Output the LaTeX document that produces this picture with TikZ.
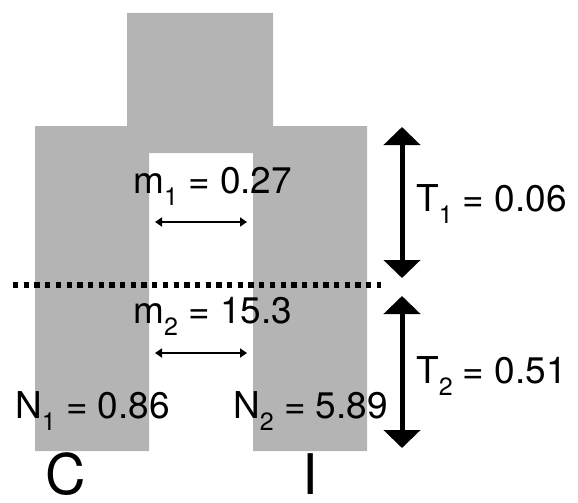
\documentclass[tikz,border=0pt]{standalone}
\usepackage{fontspec}
\setmainfont{TeX Gyre Heros}
\usetikzlibrary{arrows.meta}
\definecolor{popgray}{RGB}{180,180,180}
\newcommand{\sub}[1]{\raisebox{-0.34em}{\fontsize{25}{25}\selectfont #1}}
\tikzset{
  lbl/.style={anchor=base west, inner sep=0pt, font=\fontsize{37}{44}\selectfont},
  big/.style={anchor=base, inner sep=0pt, font=\fontsize{56}{60}\selectfont},
  migr/.style={line width=1.8pt, {Triangle[length=7pt,width=9pt]}-{Triangle[length=7pt,width=9pt]}},
  epoch/.style={line width=5pt, {Triangle[length=18pt,width=36pt]}-{Triangle[length=18pt,width=36pt]}},
  divide/.style={line width=5.3pt, dash pattern=on 5.3pt off 5.4pt}
}
\begin{document}
\begin{tikzpicture}[x=1pt,y=-1pt]
\useasboundingbox (0,0) rectangle (578,503);
% population shape
\fill[popgray] (127,13) -- (273,13) -- (273,126) -- (367,126) -- (367,451)
  -- (253,451) -- (253,153) -- (149,153) -- (149,451) -- (35,451)
  -- (35,126) -- (127,126) -- cycle;
% divider
\coordinate (dl) at (13,285);
\coordinate (dr) at (381,285);
\draw[divide] (dl) -- (dr);
% epoch arrows
\coordinate (t1a) at (402,127);
\coordinate (t1b) at (402,278);
\coordinate (t2a) at (402,296);
\coordinate (t2b) at (402,448);
\draw[epoch] (t1a) -- (t1b);
\draw[epoch] (t2a) -- (t2b);
% migration arrows
\coordinate (m1a) at (155,222);
\coordinate (m1b) at (247,222);
\coordinate (m2a) at (155,353);
\coordinate (m2b) at (247,353);
\draw[migr] (m1a) -- (m1b);
\draw[migr] (m2a) -- (m2b);
% labels
\node[lbl] (m1) at (133,193) {m\sub{1} = 0.27};
\node[lbl] (m2) at (133,323) {m\sub{2} = 15.3};
\node[lbl] (T1) at (416,211) {T\sub{1} = 0.06};
\node[lbl] (T2) at (416,383) {T\sub{2} = 0.51};
\node[lbl] (N1) at (15,418) {N\sub{1} = 0.86};
\node[lbl] (N2) at (233,418) {N\sub{2} = 5.89};
\node[big] (C) at (66,494) {C};
\node[big] (I) at (310,494) {I};
\end{tikzpicture}
\end{document}
